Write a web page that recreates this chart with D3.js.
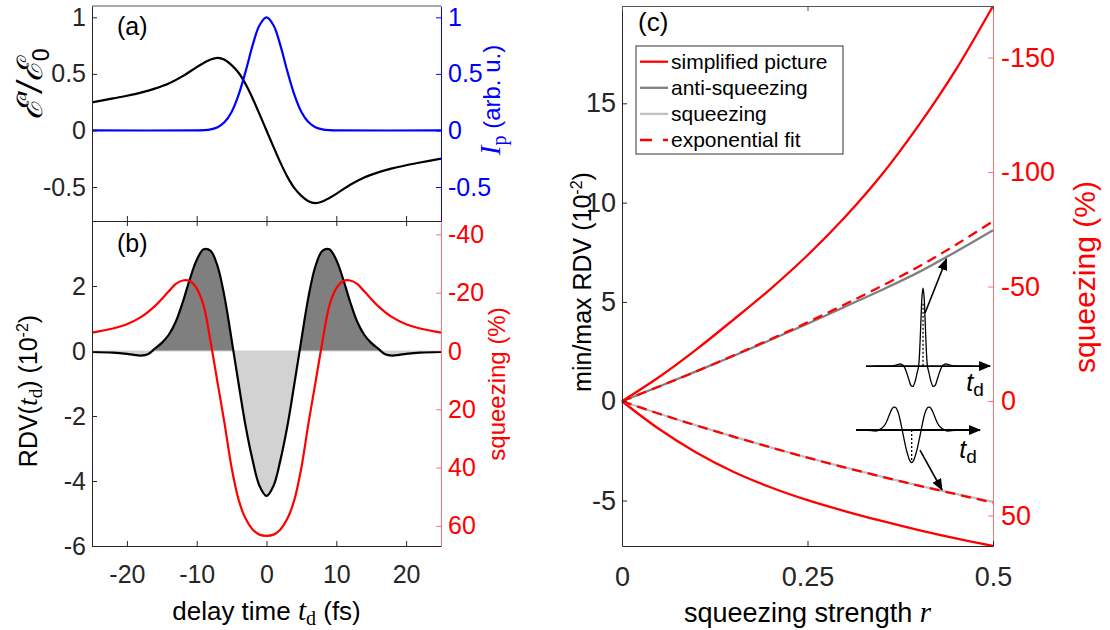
<!DOCTYPE html>
<html>
<head>
<meta charset="utf-8">
<script src="https://cdn.jsdelivr.net/npm/d3@7"></script>
<style>
    body { margin: 0; background: #fff; }
    svg text { font-family: "Liberation Sans", Arial, Helvetica, sans-serif; }
</style>
</head>
<body>
<svg id="chart" width="1110" height="630"></svg>
<script>
// ---- panel (a): field and pulse intensity vs delay time (fs)
const fieldT = [-25, -22, -20, -18, -16, -14, -12, -10, -9, -8, -7, -6, -5, -4, -3, -2, -1, 0,
    1, 2, 3, 4, 5, 6, 7, 8, 9, 10, 12, 14, 16, 18, 20, 22, 25];
const fieldE = [0.249, 0.283, 0.307, 0.335, 0.37, 0.415, 0.48, 0.56, 0.596, 0.628, 0.642, 0.625, 0.578, 0.51, 0.41, 0.285, 0.145, 0,
    -0.145, -0.285, -0.41, -0.51, -0.578, -0.625, -0.642, -0.628, -0.596, -0.56, -0.48, -0.415, -0.37, -0.335, -0.307, -0.283, -0.249];
const pulseT = [-25, -10, -9, -8, -7, -6, -5, -4, -3, -2, -1, 0, 1, 2, 3, 4, 5, 6, 7, 8, 9, 10, 25];
const pulseI = [0, 0.001, 0.003, 0.01, 0.029, 0.074, 0.164, 0.315, 0.52, 0.75, 0.93, 1,
    0.93, 0.75, 0.52, 0.315, 0.164, 0.074, 0.029, 0.01, 0.003, 0.001, 0];

// ---- panel (b): RDV (10^-2) and squeezing (%) vs delay time
const rdvT = [-25, -22, -20, -19, -18, -17, -16, -15, -14, -13, -12, -11, -10, -9, -8, -7, -6, -5, -4, -3, -2, -1, 0,
    1, 2, 3, 4, 5, 6, 7, 8, 9, 10, 11, 12, 13, 14, 15, 16, 17, 18, 19, 20, 22, 25];
const rdvV = [-0.03, -0.05, -0.09, -0.12, -0.14, -0.1, 0.07, 0.25, 0.5, 0.9, 1.5, 2.2, 2.8, 3.13, 3.08, 2.6, 1.65, 0.35, -1.0, -2.3, -3.35, -4.15, -4.46,
    -4.15, -3.35, -2.3, -1.0, 0.35, 1.65, 2.6, 3.08, 3.13, 2.8, 2.2, 1.5, 0.9, 0.5, 0.25, 0.07, -0.1, -0.14, -0.12, -0.09, -0.05, -0.03];
const sqzT = [-25, -22, -20, -18, -16, -14, -13, -12, -11, -10, -9, -8, -7, -6, -5, -4, -3, -2, -1, 0,
    1, 2, 3, 4, 5, 6, 7, 8, 9, 10, 11, 12, 13, 14, 16, 18, 20, 22, 25];
const sqzV = [-6.3, -7.7, -9.2, -11.6, -15.4, -20.5, -23, -24.2, -24, -21.5, -15.5, -3, 11, 25, 40, 51, 57.5, 61.2, 63, 63.4,
    63, 61.2, 57.5, 51, 40, 25, 11, -3, -15.5, -21.5, -24, -24.2, -23, -20.5, -15.4, -11.6, -9.2, -7.7, -6.3];

// ---- panel (c): min/max RDV (10^-2) vs squeezing strength r
const strengthR = [0, 0.05, 0.1, 0.15, 0.2, 0.25, 0.3, 0.35, 0.4, 0.45, 0.5];
const simpleUpper = [0, 1.22, 2.6, 4.1, 5.65, 7.35, 9.25, 11.4, 13.9, 16.7, 19.9];
const simpleLower = [0, -1.4, -2.58, -3.55, -4.33, -4.98, -5.53, -6.03, -6.49, -6.91, -7.29];
const antiSqz = [0, 0.74, 1.5, 2.28, 3.08, 3.9, 4.75, 5.6, 6.5, 7.53, 8.61];
const sqzLine = [0, -0.63, -1.22, -1.78, -2.32, -2.84, -3.33, -3.8, -4.25, -4.67, -5.07];
const fitUpper = [0, 0.74, 1.5, 2.3, 3.12, 3.97, 4.87, 5.8, 6.78, 7.88, 9.06];
const fitLower = [0, -0.63, -1.22, -1.78, -2.32, -2.84, -3.33, -3.8, -4.25, -4.68, -5.1];

// inset sketch of the anti-squeezing pulse shape (normalised)
const insetT = [-25, -18, -14, -12, -11, -10, -9, -8, -7, -6, -5, -4, -3, -2.2, -1.5, -1, -0.5, 0,
    0.5, 1, 1.5, 2.2, 3, 4, 5, 6, 7, 8, 9, 10, 11, 12, 14, 18, 25];
const insetV = [0, 0, 0.01, 0.025, 0.025, 0.01, -0.03, -0.1, -0.18, -0.25, -0.26, -0.2, -0.09, 0, 0.3, 0.62, 0.9, 1,
    0.9, 0.62, 0.3, 0, -0.09, -0.2, -0.26, -0.25, -0.18, -0.1, -0.03, 0.01, 0.025, 0.025, 0.01, 0, 0];

// ticks
const aTicks = [-0.5, 0, 0.5, 1];
const bTicks = [-6, -4, -2, 0, 2];
const bRightTicks = [-40, -20, 0, 20, 40, 60];
const tTicks = [-20, -10, 0, 10, 20];
const cTicks = [-5, 0, 5, 10, 15];
const cRightTicks = [-150, -100, -50, 0, 50];
const rTicks = [0, 0.25, 0.5];

const legendNames = ['simplified picture', 'anti-squeezing', 'squeezing', 'exponential fit'];

const RED = '#ff0000', BLUE = '#0000ff', INK = '#262626';
const SERIF = '"Liberation Serif", "DejaVu Serif", serif';
const fmt = d => String(d);

const svg = d3.select('#chart');
const smooth = d3.curveCatmullRom.alpha(0.5);

const xa = d3.scaleLinear().domain([-25, 25]).range([92, 441]);
const ya = d3.scaleLinear().domain([-0.8, 1.1]).range([221, 6]);
const yb = d3.scaleLinear().domain([-6, 4]).range([546, 221]);
const ybR = d3.scaleLinear().domain([-44.6, 66.9]).range([221, 546]);
const xc = d3.scaleLinear().domain([0, 0.5]).range([622, 993]);
const yc = d3.scaleLinear().domain([-7.29, 19.9]).range([546, 6]);
const ycR = d3.scaleLinear().domain([-172.5, 63.3]).range([6, 546]);

function lineOf(xs, ys, sx, sy) {
    return d3.line().x(d => sx(d[0])).y(d => sy(d[1])).curve(smooth)(d3.zip(xs, ys));
}

function styleAxis(g, color, size) {
    g.attr('font-size', size)
        .attr('font-family', '"Liberation Sans", Arial, sans-serif')
        .attr('color', color);
    g.select('.domain').attr('stroke-width', 1);
    return g;
}

// ---------- panel (a)
const pa = svg.append('g');
pa.append('path').attr('d', lineOf(fieldT, fieldE, xa, ya))
    .attr('fill', 'none').attr('stroke', '#000').attr('stroke-width', 2.2);
pa.append('path').attr('d', lineOf(pulseT, pulseI, xa, ya))
    .attr('fill', 'none').attr('stroke', BLUE).attr('stroke-width', 2.2);

pa.append('line').attr('x1', xa(-25)).attr('x2', xa(25)).attr('y1', ya(1.1)).attr('y2', ya(1.1))
    .attr('stroke', '#555').attr('stroke-width', 1);
styleAxis(pa.append('g').attr('transform', `translate(${xa(-25)},0)`)
    .call(d3.axisLeft(ya).tickValues(aTicks).tickSize(-5).tickSizeOuter(0).tickPadding(6).tickFormat(fmt)), INK, 25);
styleAxis(pa.append('g').attr('transform', `translate(${xa(25)},0)`)
    .call(d3.axisRight(ya).tickValues(aTicks).tickSize(-5).tickSizeOuter(0).tickPadding(7).tickFormat(fmt)), BLUE, 25);
styleAxis(pa.append('g').attr('transform', `translate(0,${ya(-0.8)})`)
    .call(d3.axisBottom(xa).tickValues(tTicks).tickSize(-5).tickSizeOuter(0).tickFormat('')), INK, 25);

pa.append('text').attr('x', 117).attr('y', 35).attr('font-size', 25).text('(a)');

const aLab = pa.append('g').attr('transform', 'translate(42,84) rotate(-90)')
    .append('text').attr('text-anchor', 'middle').attr('font-size', 35)
    .attr('font-family', '"DejaVu Serif", serif').attr('font-style', 'italic');
aLab.append('tspan').text('ℰ′/ℰ');
aLab.append('tspan').attr('font-size', 23).attr('dy', 7).attr('font-style', 'normal').text('0');

const aRight = pa.append('g').attr('transform', 'translate(500,100) rotate(-90)')
    .append('text').attr('text-anchor', 'middle').attr('font-size', 24).attr('fill', BLUE);
aRight.append('tspan').attr('font-family', SERIF).attr('font-style', 'italic').attr('font-size', 29).text('I');
aRight.append('tspan').attr('font-family', SERIF).attr('font-size', 20).attr('dy', 6).text('p');
aRight.append('tspan').attr('dy', -6).text(' (arb. u.)');

// ---------- panel (b)
const pb = svg.append('g');
const defs = svg.append('defs');
defs.append('clipPath').attr('id', 'above').append('rect')
    .attr('x', xa(-25)).attr('y', yb(4)).attr('width', xa(25) - xa(-25)).attr('height', yb(0) - yb(4));
defs.append('clipPath').attr('id', 'below').append('rect')
    .attr('x', xa(-25)).attr('y', yb(0)).attr('width', xa(25) - xa(-25)).attr('height', yb(-6) - yb(0));
defs.append('marker').attr('id', 'head').attr('viewBox', '0 0 12 10')
    .attr('refX', 11).attr('refY', 5).attr('markerWidth', 12).attr('markerHeight', 10)
    .attr('markerUnits', 'userSpaceOnUse').attr('orient', 'auto')
    .append('path').attr('d', 'M0,0L12,5L0,10z').attr('fill', '#000');

const rdvArea = d3.area().x(d => xa(d[0])).y0(yb(0)).y1(d => yb(d[1])).curve(smooth)(d3.zip(rdvT, rdvV));
pb.append('path').attr('d', rdvArea).attr('fill', '#7f7f7f').attr('clip-path', 'url(#above)');
pb.append('path').attr('d', rdvArea).attr('fill', '#d2d2d2').attr('clip-path', 'url(#below)');
pb.append('line').attr('x1', xa(-25)).attr('x2', xa(25)).attr('y1', yb(0)).attr('y2', yb(0))
    .attr('stroke', '#d2d2d2').attr('stroke-width', 1);
pb.append('path').attr('d', lineOf(rdvT, rdvV, xa, yb))
    .attr('fill', 'none').attr('stroke', '#000').attr('stroke-width', 2.2);
pb.append('path').attr('d', lineOf(sqzT, sqzV, xa, ybR))
    .attr('fill', 'none').attr('stroke', RED).attr('stroke-width', 2.2);

styleAxis(pb.append('g').attr('transform', `translate(${xa(-25)},0)`)
    .call(d3.axisLeft(yb).tickValues(bTicks).tickSize(-5).tickSizeOuter(0).tickPadding(6).tickFormat(fmt)), INK, 25);
const bR = styleAxis(pb.append('g').attr('transform', `translate(${xa(25)},0)`)
    .call(d3.axisRight(ybR).tickValues(bRightTicks).tickSize(-5).tickSizeOuter(0).tickPadding(7).tickFormat(fmt)), RED, 25);
bR.selectAll('.domain, line').attr('stroke-opacity', 0.55);
styleAxis(pb.append('g').attr('transform', `translate(0,${yb(4)})`)
    .call(d3.axisTop(xa).tickValues(tTicks).tickSize(-5).tickSizeOuter(0).tickFormat('')), INK, 25);
styleAxis(pb.append('g').attr('transform', `translate(0,${yb(-6)})`)
    .call(d3.axisBottom(xa).tickValues(tTicks).tickSize(-5).tickSizeOuter(0).tickPadding(19).tickFormat(fmt)), INK, 25);

pb.append('text').attr('x', 117).attr('y', 252).attr('font-size', 25).text('(b)');

const bLab = pb.append('g').attr('transform', 'translate(28,391) rotate(-90)')
    .append('text').attr('text-anchor', 'middle').attr('dy', '0.35em').attr('font-size', 25).attr('fill', '#000');
bLab.append('tspan').text('RDV(');
bLab.append('tspan').attr('font-family', SERIF).attr('font-style', 'italic').attr('font-size', 28).text('t');
bLab.append('tspan').attr('font-family', SERIF).attr('font-size', 19).attr('dy', 5).text('d');
bLab.append('tspan').attr('dy', -5).text(')  (10');
bLab.append('tspan').attr('font-size', 16).attr('dy', -9).text('-2');
bLab.append('tspan').attr('dy', 9).text(')');

pb.append('g').attr('transform', 'translate(497,384) rotate(-90)')
    .append('text').attr('text-anchor', 'middle').attr('dy', '0.35em').attr('font-size', 24)
    .attr('fill', RED).text('squeezing (%)');

const tLab = pb.append('text').attr('x', xa(0)).attr('y', 620).attr('text-anchor', 'middle')
    .attr('font-size', 26).attr('fill', '#000');
tLab.append('tspan').text('delay time ');
tLab.append('tspan').attr('font-family', SERIF).attr('font-style', 'italic').attr('font-size', 29).text('t');
tLab.append('tspan').attr('font-family', SERIF).attr('font-size', 20).attr('dy', 5).text('d');
tLab.append('tspan').attr('dy', -5).text(' (fs)');

// ---------- panel (c)
const pc = svg.append('g');
const cLine = (ys, color, dash) => pc.append('path').attr('d', lineOf(strengthR, ys, xc, yc))
    .attr('fill', 'none').attr('stroke', color).attr('stroke-width', 2.3)
    .attr('stroke-dasharray', dash || null);

cLine(simpleUpper, RED);
cLine(simpleLower, RED);
cLine(antiSqz, '#808080');
cLine(sqzLine, '#c0c0c0');
cLine(fitUpper, RED, '10,6');
cLine(fitLower, RED, '10,6');

styleAxis(pc.append('g').attr('transform', `translate(${xc(0)},0)`)
    .call(d3.axisLeft(yc).tickValues(cTicks).tickSize(-5).tickSizeOuter(0).tickPadding(6).tickFormat(fmt)), INK, 27);
const cR = styleAxis(pc.append('g').attr('transform', `translate(${xc(0.5)},0)`)
    .call(d3.axisRight(ycR).tickValues(cRightTicks).tickSize(-5).tickSizeOuter(0).tickPadding(8).tickFormat(fmt)), RED, 27);
cR.selectAll('.domain, line').attr('stroke-opacity', 0.55);
styleAxis(pc.append('g').attr('transform', `translate(0,${yc(-7.29)})`)
    .call(d3.axisBottom(xc).tickValues(rTicks).tickSize(-5).tickSizeOuter(0).tickPadding(21).tickFormat(fmt)), INK, 27);
styleAxis(pc.append('g').attr('transform', `translate(0,${yc(19.9)})`)
    .call(d3.axisTop(xc).tickValues(rTicks).tickSize(-5).tickSizeOuter(0).tickFormat('')), '#555', 27);

pc.append('text').attr('x', 638).attr('y', 31).attr('font-size', 26).text('(c)');

// legend
const leg = pc.append('g').attr('transform', 'translate(636,46)');
leg.append('rect').attr('width', 207).attr('height', 108).attr('fill', '#fff')
    .attr('stroke', '#333').attr('stroke-width', 1);
const legColors = [RED, '#808080', '#c0c0c0', RED];
legendNames.forEach((name, i) => {
    const y = 15.7 + i * 26.1;
    leg.append('line').attr('x1', 4).attr('x2', 32).attr('y1', y).attr('y2', y)
        .attr('stroke', legColors[i]).attr('stroke-width', 2.3)
        .attr('stroke-dasharray', i === 3 ? '12,11' : null);
    leg.append('text').attr('x', 35).attr('y', y).attr('dy', '0.35em')
        .attr('font-size', 21).attr('fill', '#000').text(name);
});

// insets: pulse sketches on a delay axis, with arrows to the curves
function inset(center, base, ys, amp) {
    const cx = xc(center), by = yc(base);
    const sx = d3.scaleLinear().domain([-25, 25]).range([cx - 50, cx + 50]);
    const sy = d3.scaleLinear().domain([0, 1]).range([by, by - amp]);
    pc.append('path').attr('d', d3.line().x(d => sx(d[0])).y(d => sy(d[1])).curve(smooth)(d3.zip(ys[0], ys[1])))
        .attr('fill', 'none').attr('stroke', '#000').attr('stroke-width', 1.3);
    return {sx, sy, cx, by};
}
function axisArrow(r0, r1, base) {
    pc.append('line').attr('x1', xc(r0)).attr('x2', xc(r1)).attr('y1', yc(base)).attr('y2', yc(base))
        .attr('stroke', '#000').attr('stroke-width', 1.8).attr('marker-end', 'url(#head)');
}
function tdLabel(x, y) {
    const t = pc.append('text').attr('x', x).attr('y', y).attr('font-family', SERIF)
        .attr('font-size', 25).attr('fill', '#000').attr('text-anchor', 'middle');
    t.append('tspan').attr('font-style', 'italic').text('t');
    t.append('tspan').attr('font-size', 19).attr('dy', 5).text('d');
}
function pointer(r0, v0, r1, v1) {
    pc.append('line').attr('x1', xc(r0)).attr('y1', yc(v0)).attr('x2', xc(r1)).attr('y2', yc(v1))
        .attr('stroke', '#000').attr('stroke-width', 1.6).attr('marker-end', 'url(#head)');
}

const in1 = inset(0.4057, 1.77, [insetT, insetV], 78);
axisArrow(0.3288, 0.496, 1.77);
pc.append('line').attr('x1', in1.cx).attr('x2', in1.cx).attr('y1', in1.sy(0.8)).attr('y2', in1.by)
    .attr('stroke', '#000').attr('stroke-width', 1.3).attr('stroke-dasharray', '2,2');
pointer(0.4084, 4.44, 0.4373, 7.16);
tdLabel(975, 391);

const in2 = inset(0.3904, -1.45, [rdvT, rdvV], 7.3);
axisArrow(0.3154, 0.4825, -1.45);
pc.append('line').attr('x1', in2.cx).attr('x2', in2.cx).attr('y1', in2.by).attr('y2', in2.sy(-4.1))
    .attr('stroke', '#000').attr('stroke-width', 1.3).attr('stroke-dasharray', '2,2');
pointer(0.4016, -2.46, 0.4313, -4.47);
tdLabel(968, 458);

// axis labels
const cLab = pc.append('g').attr('transform', 'translate(582,282) rotate(-90)')
    .append('text').attr('text-anchor', 'middle').attr('dy', '0.35em').attr('font-size', 25).attr('fill', '#000');
cLab.append('tspan').text('min/max RDV  (10');
cLab.append('tspan').attr('font-size', 16).attr('dy', -9).text('-2');
cLab.append('tspan').attr('dy', 9).text(')');

pc.append('g').attr('transform', 'translate(1084,277) rotate(-90)')
    .append('text').attr('text-anchor', 'middle').attr('dy', '0.35em').attr('font-size', 30)
    .attr('fill', RED).text('squeezing (%)');

const rLab = pc.append('text').attr('x', xc(0.25)).attr('y', 622).attr('text-anchor', 'middle')
    .attr('font-size', 27).attr('fill', '#000');
rLab.append('tspan').text('squeezing strength ');
rLab.append('tspan').attr('font-family', SERIF).attr('font-style', 'italic').attr('font-size', 29).text('r');
</script>
</body>
</html>
